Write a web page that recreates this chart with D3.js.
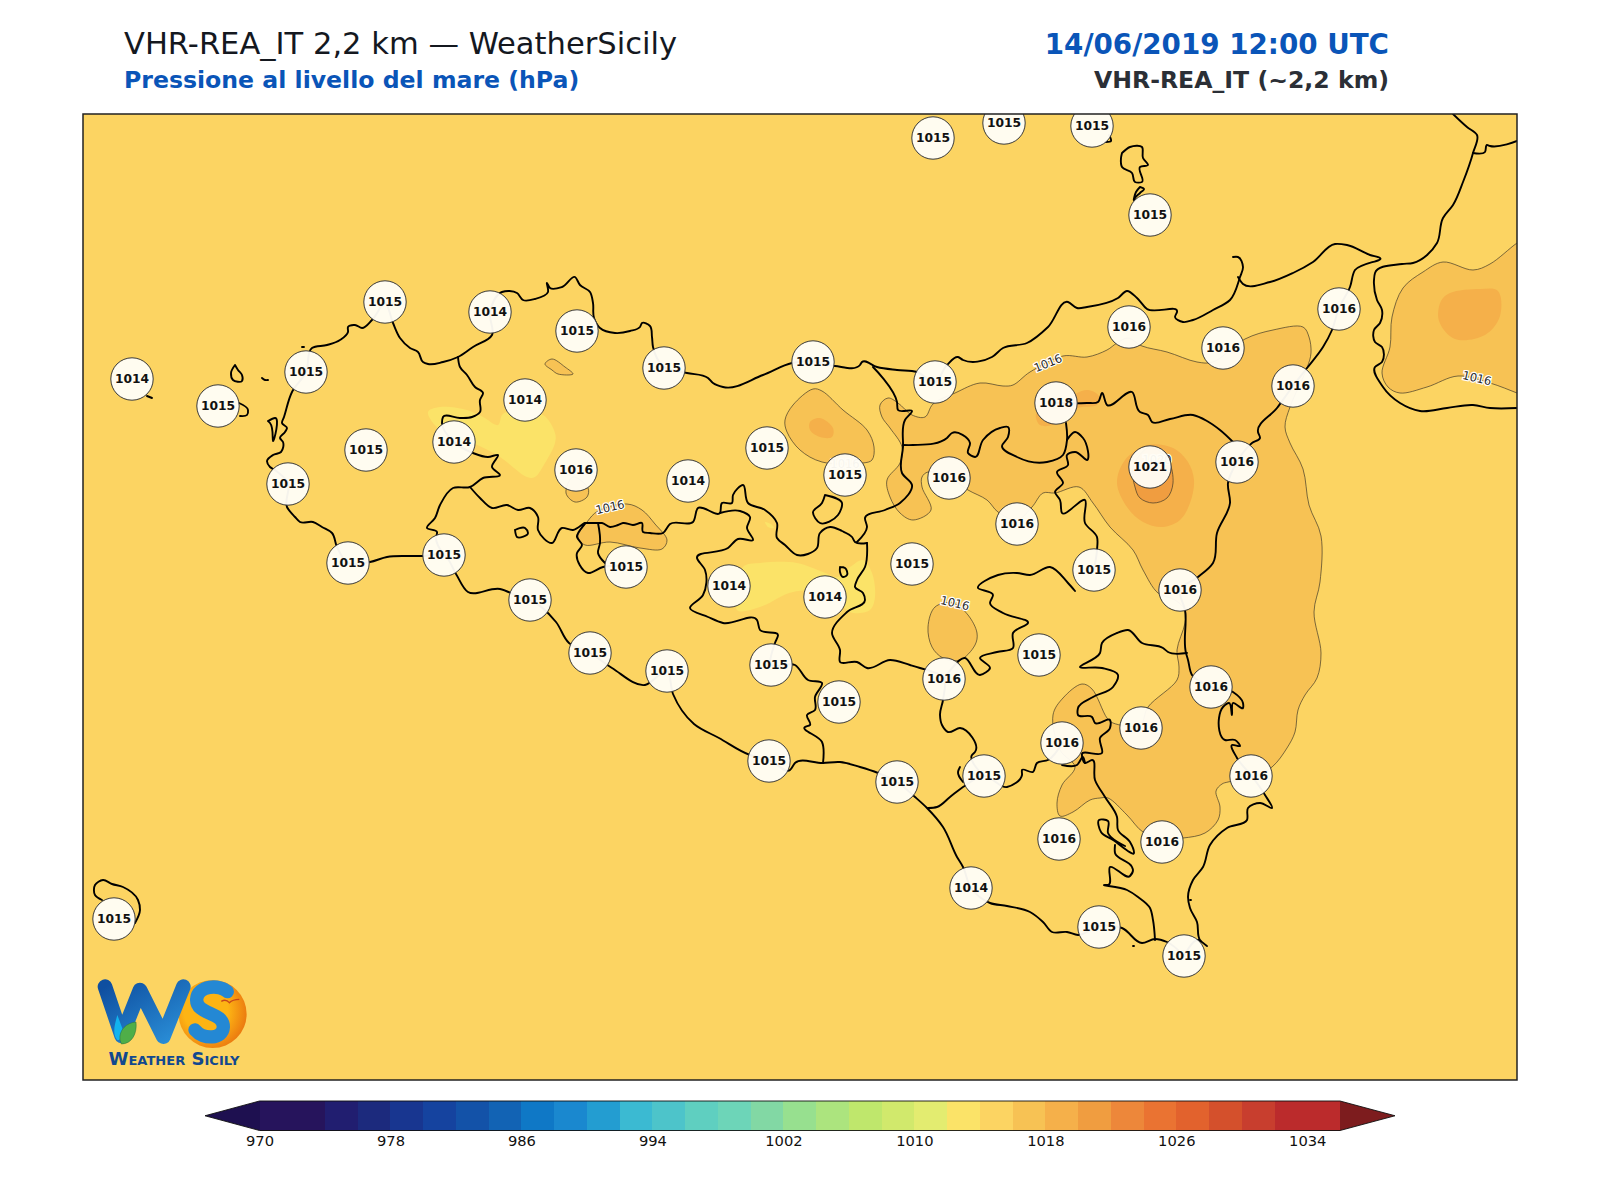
<!DOCTYPE html>
<html><head><meta charset="utf-8">
<script src="https://cdn.jsdelivr.net/npm/d3@7"></script>
<style>html,body{margin:0;background:#fff}svg{display:block}text{font-family:"DejaVu Sans",sans-serif}</style>
</head><body><svg id="c" width="1600" height="1200"></svg>
<script>
// ---------- data (map grid units) ----------
const titleLeft = "VHR-REA_IT 2,2 km — WeatherSicily";
const subtitleLeft = "Pressione al livello del mare (hPa)";
const titleRight = "14/06/2019 12:00 UTC";
const subtitleRight = "VHR-REA_IT (~2,2 km)";
const levels = d3.range(970, 1038, 2);
const levelColors = ["#26145c","#26145c","#211e70","#1c2a7d","#183690","#15439f","#1352a8","#1263b4","#0f78c6","#1a88cf","#239dd1","#3bbad2","#4dc4ca","#5fcfc0","#6dd5b8","#82d8a4","#97e08f","#ace47e","#bfe76c","#d1e96c","#e3ec70","#fbe368","#fcd462","#f7c254","#f5b04a","#f09d40","#ed873a","#ea7332","#e2622d","#d4502c","#c83e2e","#bb2b2c","#bb2b2c"];
const underColor = "#1e1050", overColor = "#7d1c1e";
const cbarTicks = [970,978,986,994,1002,1010,1018,1026,1034];
const stationX = [933,1004,1092,1150,385,490,577,664,813,935,1129,1223,1339,1293,132,218,306,525,1056,366,454,767,845,576,688,949,1150,1237,288,1017,348,444,626,912,1094,1180,729,825,530,590,1039,667,771,944,1211,839,1141,1062,769,984,1251,897,1059,1162,971,1099,1184,114];
const stationY = [138,123,126,215,302,312,331,368,362,382,327,348,309,386,379,406,372,400,403,450,442,448,475,470,481,478,467,462,484,524,563,555,567,564,570,590,586,597,600,653,655,671,665,679,687,702,728,743,761,776,776,782,839,842,888,927,956,919];
const stationP = [1015,1015,1015,1015,1015,1014,1015,1015,1015,1015,1016,1016,1016,1016,1014,1015,1015,1014,1018,1015,1014,1015,1015,1016,1014,1016,1021,1016,1015,1016,1015,1015,1015,1015,1015,1016,1014,1014,1015,1015,1015,1015,1015,1016,1016,1015,1016,1016,1015,1015,1016,1015,1016,1016,1014,1015,1015,1015];

const contour1012 = [
 [[428,412],[440,407],[467,410],[483,417],[498,425],[502,415],[507,412],[543,415],[555,433],[555,443],[545,463],[535,477],[527,477],[500,457],[473,443],[440,430]],
 [[743,567],[760,563],[797,563],[823,572],[837,577],[850,567],[863,560],[872,573],[875,597],[870,610],[853,613],[847,610],[823,593],[793,592],[760,607],[737,610]],
 [[765,522],[771,524],[774,528],[768,527]]
];
const contour1016 = [
 [[925,417],[933,404],[955,393],[980,383],[1003,386],[1013,385],[1030,372],[1063,356],[1087,357],[1107,350],[1117,343],[1128,338],[1142,346],[1167,352],[1197,362],[1213,362],[1245,339],[1273,330],[1303,327],[1309,337],[1311,353],[1307,368],[1290,407],[1285,427],[1290,443],[1303,469],[1309,505],[1321,536],[1320,582],[1314,612],[1321,653],[1317,678],[1305,695],[1298,710],[1295,732],[1287,748],[1272,767],[1251,778],[1228,782],[1222,784],[1216,791],[1220,807],[1218,820],[1205,833],[1183,838],[1162,838],[1143,832],[1127,815],[1108,798],[1100,798],[1090,800],[1073,812],[1060,816],[1057,803],[1062,785],[1075,767],[1060,750],[1053,715],[1063,698],[1082,684],[1092,689],[1107,718],[1113,723],[1140,725],[1148,707],[1177,680],[1179,667],[1177,650],[1185,623],[1185,610],[1175,600],[1158,593],[1143,570],[1133,550],[1110,527],[1093,503],[1079,487],[1055,493],[1043,493],[1032,507],[1017,520],[998,512],[987,500],[968,490],[949,477],[928,472],[922,477],[922,487],[931,510],[913,520],[900,513],[890,497],[887,480],[900,463],[902,447],[890,428],[882,417],[880,405],[888,398],[898,403],[912,415]],
 [[813,389],[822,391],[843,410],[867,430],[874,447],[872,460],[863,463],[822,462],[800,450],[787,432],[785,420],[793,405]],
 [[935,607],[928,627],[932,647],[943,658],[960,660],[975,645],[977,633],[968,615],[953,603]],
 [[566,493],[575,502],[587,497],[588,488],[573,477]],
 [[545,364],[552,359],[565,367],[573,374],[558,374],[552,370]],
 [[578,537],[587,522],[598,511],[627,504],[642,510],[655,524],[667,540],[662,549],[640,548],[610,542],[585,545]],
 [[1443,262],[1473,270],[1490,264],[1517,243],[1530,235],[1530,398],[1517,393],[1490,383],[1458,376],[1427,387],[1400,393],[1388,387],[1382,373],[1390,347],[1392,317],[1403,288],[1423,272]]
];
const contour1018 = [
 [[810,422],[820,418],[833,428],[832,437],[820,437],[810,430]],
 [[1441,301],[1450,293],[1480,289],[1498,291],[1500,316],[1485,335],[1455,339],[1439,321]],
 [[1117,483],[1125,460],[1147,445],[1173,448],[1188,462],[1194,480],[1190,503],[1180,520],[1163,527],[1143,522],[1127,507]],
 [[1036,414],[1040,425],[1056,424],[1078,408],[1097,405],[1099,396],[1088,390],[1077,393],[1070,400],[1050,405]]
];
const contour1020 = [
 [[1135,487],[1140,498],[1153,503],[1167,498],[1173,483],[1168,460],[1150,447],[1133,467]]
];
const contourLabelText = ["1016","1016","1016","1016","1016","1020"];
const contourLabelX = [1048,610,955,1477,845,1157];
const contourLabelY = [363,507,603,378,464,460];
const contourLabelAngle = [-22,-13,13,13,0,0];

const borderLines = [
 // north-west and north coast
 [[275,470],[270,467],[267,461],[273,455],[281,452],[283,442],[280,438],[285,432],[287,428],[282,423],[284,417],[292,392],[306,372],[312,348],[327,345],[340,340],[348,332],[348,327],[355,325],[362,328],[372,320],[385,303],[393,323],[400,338],[410,348],[418,352],[423,362],[428,364],[443,362],[458,357],[473,347],[492,335],[490,312],[502,292],[517,293],[523,300],[535,299],[548,292],[547,283],[550,288],[562,287],[575,277],[580,285],[590,292],[593,303],[594,318],[600,328],[615,333],[630,331],[640,327],[642,323],[650,326],[652,337],[653,347],[664,367],[687,373],[708,378],[713,383],[723,387],[763,375],[792,363],[813,361],[835,366],[860,365],[862,362],[877,367],[897,370],[917,372],[935,382],[947,365],[958,357],[963,360],[992,357],[1003,348],[1027,343],[1048,327],[1068,302],[1077,308],[1087,307],[1118,298],[1127,291],[1137,298],[1147,309],[1177,312],[1175,317],[1183,322],[1193,320],[1213,310],[1230,300],[1240,277],[1243,267],[1238,257],[1233,257]],
 // west and south coast
 [[275,470],[288,483],[287,507],[295,517],[300,522],[313,522],[322,527],[332,533],[337,547],[348,563],[370,562],[387,557],[407,556],[423,556],[444,555],[456,574],[468,592],[500,589],[520,597],[530,600],[556,622],[569,643],[590,653],[612,668],[645,685],[667,671],[673,694],[694,724],[719,738],[750,755],[769,760],[790,770],[795,763],[823,763],[840,762],[860,767],[878,773],[897,782],[915,797],[927,808],[943,827],[957,857],[963,867],[971,888],[990,903],[1007,906],[1030,912],[1043,922],[1052,932],[1067,932],[1078,935],[1099,926],[1122,928],[1142,943],[1155,939],[1167,942],[1184,956]],
 // east coast
 [[1184,956],[1198,940],[1207,946],[1200,940],[1197,922],[1190,908],[1188,897],[1193,880],[1203,867],[1210,845],[1227,828],[1247,820],[1248,808],[1260,803],[1272,808],[1265,795],[1251,775],[1237,758],[1232,745],[1240,746],[1235,740],[1225,740],[1219,718],[1223,707],[1229,703],[1232,715],[1233,703],[1243,708],[1243,703],[1233,692],[1211,687],[1192,675],[1188,660],[1186,653],[1185,610],[1180,590],[1198,577],[1213,563],[1217,533],[1230,503],[1228,483],[1237,462],[1252,443],[1260,438],[1258,432],[1277,408],[1293,386],[1307,368],[1323,347],[1332,330],[1339,308],[1350,287],[1355,270],[1380,258],[1370,255],[1347,245],[1335,244],[1313,262],[1293,273],[1270,282],[1243,284],[1238,277]],
 // provinces
 [[458,357],[460,367],[467,375],[475,387],[483,393],[480,400],[480,412],[472,417],[460,418],[443,417],[442,423],[454,442],[473,453],[488,457],[498,455],[492,467],[500,475],[483,478],[470,487],[453,488],[440,505],[435,518],[427,528],[437,532],[436,538],[444,555]],
 [[470,487],[480,498],[492,508],[507,505],[518,510],[530,508],[538,517],[538,530],[552,543],[562,528],[573,530],[585,523],[577,537],[582,545],[577,553],[588,573],[603,567],[626,566]],
 [[585,523],[598,523],[602,523],[610,527],[618,525],[623,523],[633,525],[642,523],[643,532],[650,533],[663,533],[670,524],[693,522],[698,508],[720,513],[722,503],[732,503],[733,495],[743,485],[748,503],[765,510],[777,523],[777,538],[785,545],[797,555],[817,548],[820,533],[830,527],[842,531],[852,537],[855,542],[867,543]],
 [[598,523],[600,543],[598,553],[605,563]],
 [[720,513],[740,511],[750,517],[747,528],[753,540],[738,539],[728,548],[697,558],[705,570],[703,595],[690,608],[708,617],[723,623],[757,620],[760,630],[778,635],[775,643],[771,665],[795,665],[808,680],[822,683],[815,697],[815,710],[807,715],[810,725],[805,727],[822,742],[823,763]],
 [[867,543],[865,567],[857,580],[855,587],[863,593],[865,600],[847,612],[832,633],[840,650],[840,662],[857,662],[867,668],[890,660],[910,665],[920,668],[944,679],[943,700],[940,715],[942,725],[948,732],[960,728],[975,752],[972,755],[984,776]],
 [[857,542],[867,527],[865,518],[885,510],[900,503],[912,485],[902,473],[903,447],[905,420],[912,411],[898,410],[897,402],[873,367]],
 [[903,445],[913,445],[947,438],[952,433],[970,443],[968,453],[975,457],[983,440],[1000,428],[1008,427],[1008,437],[1002,446],[1017,457],[1047,462],[1063,455],[1067,440],[1066,423]],
 [[1067,440],[1075,432],[1083,438],[1087,460],[1075,452],[1067,455],[1068,465],[1057,472],[1063,483],[1055,492],[1060,500],[1062,513],[1085,500],[1085,523],[1097,537],[1097,550],[1094,569]],
 [[1075,591],[1068,583],[1050,567],[1030,575],[1017,573],[998,575],[978,588],[993,595],[990,603],[1003,613],[1028,623],[1013,633],[1013,648],[997,652],[980,658],[990,668],[980,675],[965,658],[944,679]],
 [[1056,403],[1087,403],[1098,402],[1102,393],[1107,405],[1132,392],[1140,412],[1148,415],[1152,422],[1170,419],[1193,415],[1207,421],[1220,430],[1233,442]],
 [[1187,653],[1168,652],[1163,648],[1142,643],[1128,630],[1117,633],[1102,643],[1100,653],[1080,667],[1102,668],[1118,675],[1113,687],[1093,697],[1078,708],[1078,715],[1092,717],[1095,723],[1110,720],[1110,728],[1100,738],[1102,753],[1082,754],[1085,763],[1092,760],[1095,780],[1105,797],[1117,817],[1118,830],[1130,842],[1134,853],[1113,840],[1101,832],[1099,820],[1108,821],[1108,833],[1125,846]],
 [[1115,845],[1115,853],[1132,867],[1133,870],[1130,876],[1110,867],[1108,885],[1105,885],[1127,890],[1138,897],[1150,908],[1153,920],[1155,940]],
 [[1062,743],[1048,760],[1037,763],[1033,772],[1022,770],[1022,775],[1007,787],[984,776],[963,787],[950,797],[937,807],[928,808]],
 [[1062,765],[1077,765],[1083,757],[1085,763]],
 [[960,767],[958,772],[963,782]],
 // Calabria
 [[1453,114],[1467,127],[1477,135],[1473,153],[1463,182],[1453,205],[1443,218],[1437,243],[1413,263],[1402,264],[1375,273],[1374,280],[1377,300],[1382,310],[1380,323],[1374,330],[1375,342],[1382,347],[1382,362],[1375,367],[1383,387],[1400,403],[1420,411],[1447,408],[1473,405],[1490,408],[1517,408]],
 [[1473,153],[1485,152],[1487,145],[1490,146],[1517,141]],
 // islands
 [[1122,153],[1130,147],[1142,147],[1143,158],[1148,165],[1140,167],[1142,182],[1135,182],[1132,173],[1122,167],[1121,158],[1122,153]],
 [[1140,187],[1144,189],[1140,193],[1135,198],[1134,200],[1136,192],[1140,187]],
 [[1109,135],[1111,141],[1105,142]],
 [[235,365],[231,373],[233,380],[242,381],[242,375],[238,370],[235,365]],
 [[262,378],[265,380],[268,380]],
 [[239,403],[248,410],[247,415],[240,416]],
 [[147,396],[152,398]],
 [[302,347],[304,347]],
 [[268,421],[275,418],[273,441],[270,423],[268,421]],
 [[102,900],[95,895],[95,885],[103,880],[112,884],[123,887],[138,900],[140,910],[135,923]],
 [[515,530],[525,528],[528,533],[517,537],[515,530]],
 [[825,495],[842,503],[838,515],[820,523],[813,512],[822,503],[825,495]],
 [[840,567],[845,568],[847,575],[843,577],[840,572],[840,567]],
 [[1133,946],[1134,946]],[[1190,900],[1191,900]]
];

// ---------- scales ----------
const W = 1600, H = 1200, frame = {l:83, r:1517, t:114, b:1080};
const sx = d3.scaleLinear().domain([frame.l, frame.r]).range([frame.l, frame.r]);
const sy = d3.scaleLinear().domain([frame.t, frame.b]).range([frame.t, frame.b]);
const fill = d3.scaleThreshold().domain(levels.slice(1)).range(levelColors);
const svg = d3.select("#c");
const defs = svg.append("defs");
defs.append("clipPath").attr("id","map").append("rect")
  .attr("x",frame.l).attr("y",frame.t).attr("width",frame.r-frame.l).attr("height",frame.b-frame.t);

// ---------- titles ----------
const t = (s,x,y,size,weight,color,anchor)=>svg.append("text").text(s).attr("x",x).attr("y",y)
  .attr("font-size",size).attr("font-weight",weight).attr("fill",color).attr("text-anchor",anchor);
t(titleLeft,124,54,30.56,"normal","#14181f","start");
t(subtitleLeft,124,88,23.6,"bold","#0a55b8","start");
t(titleRight,1389,54,27.75,"bold","#0a55b8","end");
t(subtitleRight,1389,88,23.6,"bold","#2b2f36","end");

// ---------- map ----------
const map = svg.append("g").attr("clip-path","url(#map)");
map.append("rect").attr("x",frame.l).attr("y",frame.t).attr("width",frame.r-frame.l).attr("height",frame.b-frame.t).attr("fill",fill(1015));
const ring = d3.line().x(d=>sx(d[0])).y(d=>sy(d[1])).curve(d3.curveCatmullRomClosed.alpha(0.5));
const open = d3.line().x(d=>sx(d[0])).y(d=>sy(d[1])).curve(d3.curveCatmullRom.alpha(1));
const layer = (polys,value,stroked)=>map.append("g").selectAll("path").data(polys).join("path")
  .attr("d",ring).attr("fill",fill(value))
  .attr("stroke",stroked?"#3d3526":"none").attr("stroke-width",stroked?0.8:0).attr("stroke-opacity",0.85);
layer(contour1012,1013,false);
layer(contour1016,1017,true);
layer(contour1018,1019,false);
layer(contour1020,1021,true);

map.append("g").selectAll("text").data(contourLabelText).join("text")
  .text(d=>d)
  .attr("transform",(d,i)=>`translate(${sx(contourLabelX[i])},${sy(contourLabelY[i])}) rotate(${contourLabelAngle[i]})`)
  .attr("text-anchor","middle").attr("dy","0.36em").attr("font-size",11.5)
  .attr("fill","#2a2a2a").attr("stroke","#fff").attr("stroke-width",2.4).attr("paint-order","stroke");

map.append("g").selectAll("path").data(borderLines).join("path")
  .attr("d",open).attr("fill","none").attr("stroke","#000").attr("stroke-width",1.9)
  .attr("stroke-linejoin","round").attr("stroke-linecap","round");

// ---------- station badges ----------
const st = map.append("g").selectAll("g").data(stationP).join("g")
  .attr("transform",(d,i)=>`translate(${sx(stationX[i])},${sy(stationY[i])})`);
st.append("circle").attr("r",21.2).attr("fill","#fffdf6").attr("fill-opacity",0.96)
  .attr("stroke","#3a3a3a").attr("stroke-width",1);
st.append("text").text(d=>d).attr("text-anchor","middle").attr("dy","0.36em")
  .attr("font-size",12.3).attr("font-weight","bold").attr("fill","#111");

// ---------- logo ----------
const logo = map.append("g").attr("transform","translate(80,940) scale(0.3333)");
const lg = defs.append("linearGradient").attr("id","wg").attr("x1",0).attr("y1",0).attr("x2",1).attr("y2",1);
lg.append("stop").attr("offset",0).attr("stop-color","#0f4fa0");
lg.append("stop").attr("offset",1).attr("stop-color","#2a8fd8");
const sg = defs.append("radialGradient").attr("id","sg").attr("cx",0.4).attr("cy",0.45).attr("r",0.65);
sg.append("stop").attr("offset",0.5).attr("stop-color","#fdb414");
sg.append("stop").attr("offset",1).attr("stop-color","#e9720f");
logo.append("circle").attr("cx",398).attr("cy",222).attr("r",102).attr("fill","url(#sg)");
logo.append("path").attr("d","M75 140L125 288L180 150L250 290L310 140").attr("fill","none")
  .attr("stroke","url(#wg)").attr("stroke-width",44).attr("stroke-linejoin","round").attr("stroke-linecap","round");
logo.append("path").attr("d","M442 155C420 132 352 136 350 178C348 226 432 214 430 262C428 298 370 300 345 270").attr("fill","none")
  .attr("stroke","#2488d4").attr("stroke-width",40).attr("stroke-linecap","round");
logo.append("path").attr("d","M112 225C104 255 96 280 112 300C125 300 132 285 128 268Z").attr("fill","#12b4ee");
logo.append("path").attr("d","M120 300C116 270 140 248 168 246C172 280 156 312 124 312Z").attr("fill","#4fae48").attr("stroke","#2b6d3a").attr("stroke-width",1.5);
logo.append("path").attr("d","M424 184Q438 176 448 188Q458 178 478 178").attr("fill","none").attr("stroke","#c8461a").attr("stroke-width",4);
map.append("text").text("Weather Sicily").attr("x",174).attr("y",1065).attr("text-anchor","middle")
  .attr("font-size",18).attr("font-weight","bold").attr("font-variant","small-caps")
  .attr("fill","#12488f").attr("textLength",131).attr("lengthAdjust","spacingAndGlyphs");

svg.append("rect").attr("x",frame.l).attr("y",frame.t).attr("width",frame.r-frame.l).attr("height",frame.b-frame.t)
  .attr("fill","none").attr("stroke","#222").attr("stroke-width",1.5);

// ---------- colour bar ----------
const cb = {x0:259.5,x1:1340,y0:1101,y1:1130.5,tipL:205,tipR:1395};
const cs = d3.scaleLinear().domain([970,1036]).range([cb.x0,cb.x1]);
const bar = svg.append("g");
const mid = (cb.y0+cb.y1)/2;
bar.append("path").attr("d",`M${cb.x0+2} ${cb.y0}L${cb.x0} ${cb.y0}L${cb.tipL} ${mid}L${cb.x0} ${cb.y1}L${cb.x0+2} ${cb.y1}Z`).attr("fill",underColor);
bar.append("path").attr("d",`M${cb.x1-2} ${cb.y0}L${cb.x1} ${cb.y0}L${cb.tipR} ${mid}L${cb.x1} ${cb.y1}L${cb.x1-2} ${cb.y1}Z`).attr("fill",overColor);
bar.selectAll("rect").data(levels.slice(0,33)).join("rect")
  .attr("x",d=>cs(d)).attr("y",cb.y0).attr("width",d=>cs(d+2)-cs(d)).attr("height",cb.y1-cb.y0)
  .attr("fill",(d,i)=>levelColors[i]).attr("shape-rendering","crispEdges");
bar.append("path").attr("d",`M${cb.x0} ${cb.y0}L${cb.tipL} ${mid}L${cb.x0} ${cb.y1}L${cb.x1} ${cb.y1}L${cb.tipR} ${mid}L${cb.x1} ${cb.y0}Z`)
  .attr("fill","none").attr("stroke","#111").attr("stroke-width",0.9);
const axis = svg.append("g").attr("transform",`translate(0,${cb.y1})`)
  .call(d3.axisBottom(cs).tickValues(cbarTicks).tickFormat(d3.format("d")).tickSize(0).tickPadding(5));
axis.select(".domain").remove();
axis.selectAll("text").attr("font-size",14.7).attr("font-family","DejaVu Sans").attr("fill","#111");
</script></body></html>
